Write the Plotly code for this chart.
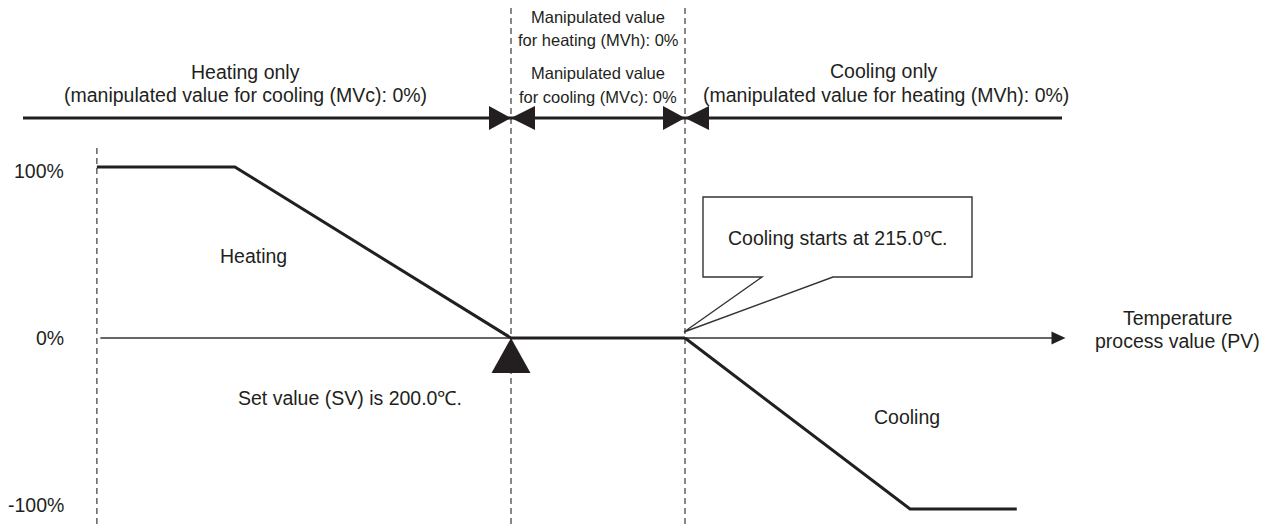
import plotly.graph_objects as go

# ---- data (temperature process value in degC, manipulated value in %) ----
sv_temp = 200.0
cool_start_temp = 215.0
left_limit_temp = 164.3
heating_pv = [164.3, 176.2, 200.0, 215.0]
heating_mv = [100, 100, 0, 0]
cooling_pv = [215.0, 234.4, 243.6]
cooling_mv = [0, -100, -100]
y_tick_vals = [100, 0, -100]
y_tick_text = ["100%", "0%", "-100%"]
axis_end_temp = 247.8

W, H = 1278, 524
FONT = "Liberation Sans, Arial, sans-serif"
TXT = "#231f20"
LINE = "#231f20"

# scale: 11.6 px per degC (200 degC at x=511), 1.71 px per % (0% at y=338)
x_range = [200 - 511 / 11.6, 200 + (W - 511) / 11.6]
y_range = [(338 - H) / 1.71, 338 / 1.71]


def px(x):
    return x / W


def py(y):
    return 1 - y / H


fig = go.Figure()

fig.add_trace(go.Scatter(x=heating_pv, y=heating_mv, mode="lines",
                         line=dict(color=LINE, width=3), hoverinfo="skip"))
fig.add_trace(go.Scatter(x=cooling_pv, y=cooling_mv, mode="lines",
                         line=dict(color=LINE, width=3), hoverinfo="skip"))

shapes = []
# dashed vertical guide lines
shapes.append(dict(type="line", xref="x", yref="paper", x0=left_limit_temp, x1=left_limit_temp,
                   y0=0, y1=py(147), line=dict(color="#3a3a3a", width=1.2, dash="6px,4px"), layer="below"))
for t in (sv_temp, cool_start_temp):
    shapes.append(dict(type="line", xref="x", yref="paper", x0=t, x1=t,
                       y0=0, y1=py(6), line=dict(color="#3a3a3a", width=1.2, dash="6px,4px"), layer="below"))
# temperature axis (0%)
shapes.append(dict(type="line", xref="x", yref="y", x0=left_limit_temp + 0.3, x1=axis_end_temp - 1.0,
                   y0=0, y1=0, line=dict(color="#333", width=1.6), layer="below"))
shapes.append(dict(type="path", xref="x", yref="y", xsizemode="pixel", ysizemode="pixel",
                   xanchor=axis_end_temp, yanchor=0, path="M0,0 L-14,6.5 L-14,-6.5 Z",
                   fillcolor=LINE, line=dict(width=0)))
# top region bar
shapes.append(dict(type="line", xref="paper", yref="paper", x0=px(23), x1=px(1062),
                   y0=py(118), y1=py(118), line=dict(color=LINE, width=3)))
for t in (sv_temp, cool_start_temp):
    shapes.append(dict(type="path", xref="x", yref="paper", xsizemode="pixel", ysizemode="pixel",
                       xanchor=t, yanchor=py(118), path="M0,0 L-22,12 L-22,-12 Z",
                       fillcolor=LINE, line=dict(width=0)))
    shapes.append(dict(type="path", xref="x", yref="paper", xsizemode="pixel", ysizemode="pixel",
                       xanchor=t, yanchor=py(118), path="M0,0 L24,12 L24,-12 Z",
                       fillcolor=LINE, line=dict(width=0)))
# set value marker triangle
shapes.append(dict(type="path", xref="x", yref="y", xsizemode="pixel", ysizemode="pixel",
                   xanchor=sv_temp, yanchor=0, path="M0,0 L-19.5,-35 L19.5,-35 Z",
                   fillcolor=LINE, line=dict(width=0)))
# callout box
shapes.append(dict(type="path", xref="x", yref="y", xsizemode="pixel", ysizemode="pixel",
                   xanchor=cool_start_temp, yanchor=0,
                   path="M77,61 L-1,6 L148,61 L287,61 L287,141 L18,141 L18,61 Z",
                   fillcolor="white", line=dict(color="#333", width=1.4)))

ann = []


def text(s, x, y, size=19.5, xanchor="center"):
    ann.append(dict(text=s, x=px(x), y=py(y), xref="paper", yref="paper", showarrow=False,
                    xanchor=xanchor, yanchor="middle", font=dict(family=FONT, size=size, color=TXT)))


text("Heating only", 245, 72)
text("(manipulated value for cooling (MVc): 0%)", 245, 95)
text("Manipulated value", 598, 17, 16.5)
text("for heating (MVh): 0%", 598, 40, 16.5)
text("Manipulated value", 598, 73, 16.5)
text("for cooling (MVc): 0%", 598, 97, 16.5)
text("Cooling only", 884, 71)
text("(manipulated value for heating (MVh): 0%)", 886, 95)
text("Cooling starts at 215.0\u2103.", 838, 238)
text("Heating", 218, 256, xanchor="left")
text("Set value (SV) is 200.0\u2103.", 236, 398, xanchor="left")
text("Cooling", 907, 417)
text("Temperature", 1177, 318)
text("process value (PV)", 1177, 341)
for v, s in zip(y_tick_vals, y_tick_text):
    ypix = 338 - v * 1.71 + (4 if v > 0 else (-4 if v < 0 else 0))
    text(s, 66, ypix, xanchor="right")

fig.update_layout(
    width=W, height=H,
    margin=dict(l=0, r=0, t=0, b=0),
    paper_bgcolor="white", plot_bgcolor="white",
    showlegend=False, hovermode=False,
    xaxis=dict(range=x_range, visible=False, fixedrange=True),
    yaxis=dict(range=y_range, visible=False, fixedrange=True),
    shapes=shapes, annotations=ann,
)

fig.write_html("out.html", config={"displayModeBar": False},
               post_script="document.body.style.margin='0';document.body.style.overflow='hidden';")
